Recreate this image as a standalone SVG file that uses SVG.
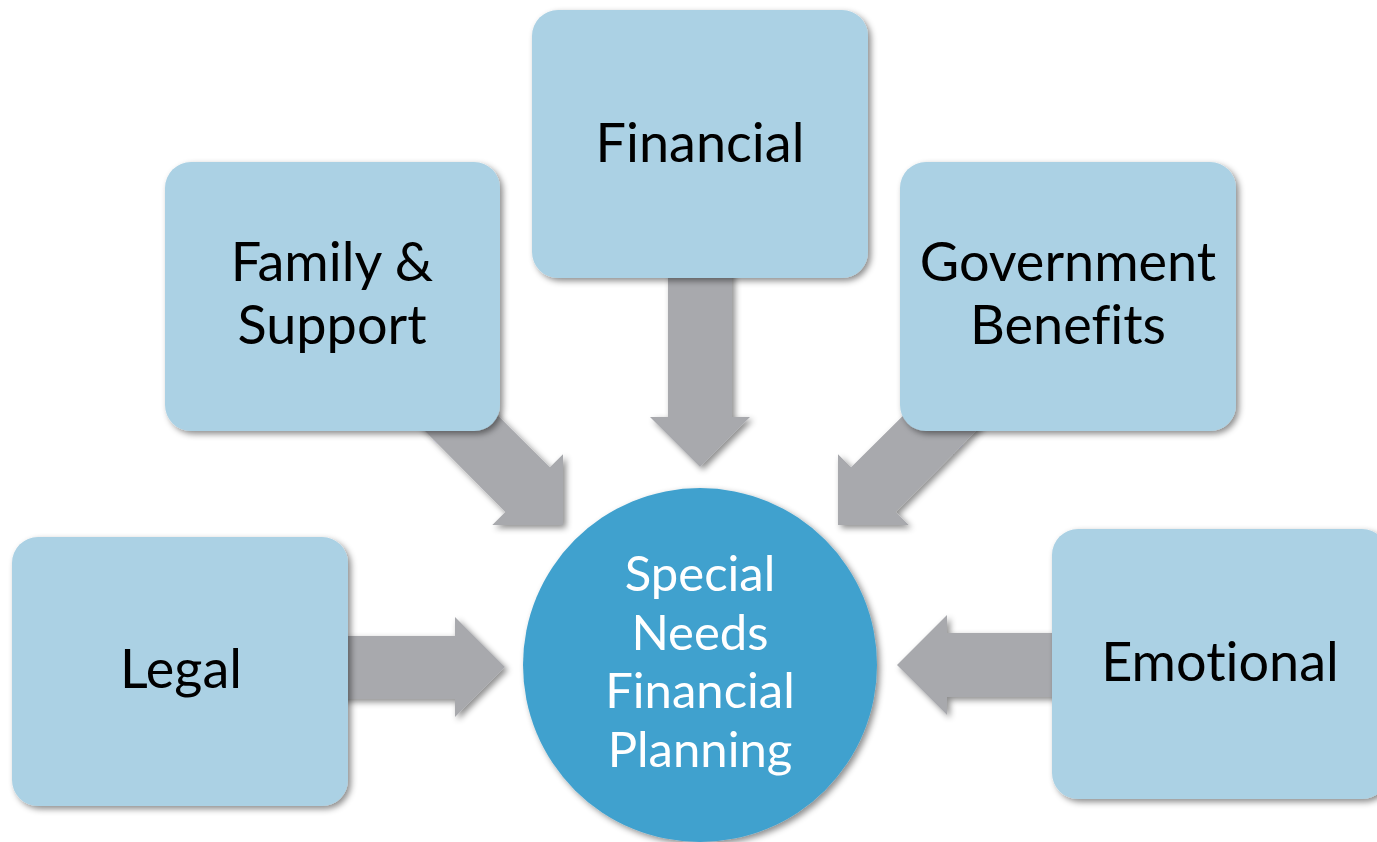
<svg xmlns="http://www.w3.org/2000/svg" width="1377" height="842" viewBox="0 0 1377 842">
  <defs>
    <filter id="shadow" x="-20%" y="-20%" width="140%" height="140%">
      <feDropShadow dx="3" dy="3" stdDeviation="3" flood-color="#000" flood-opacity="0.45"/>
    </filter>
  </defs>
  <style>
    .box { fill: #abd1e4; filter: url(#shadow); }
    .hub { fill: #41a1ce; filter: url(#shadow); }
    .arrow { fill: #a8a9ad; filter: url(#shadow); }
    text { font-family: Lato, "Open Sans", sans-serif; text-anchor: middle; font-variant-ligatures: none; font-feature-settings: "liga" 0, "dlig" 0; }
    .label { font-size: 54px; fill: #000; }
    .hub-label { font-size: 49px; fill: #fff; }
  </style>
  <rect width="1377" height="842" fill="#fff"/>

  <!-- block arrows pointing into the hub -->
  <g id="connectors">
    <polygon class="arrow" points="330,636 455,636 455,617 505,667 455,717 455,699 330,699"/>
    <polygon class="arrow" points="1070,633 947,633 947,615 897,665 947,715 947,697 1070,697"/>
    <polygon class="arrow" points="668,260 732,260 732,417 750,417 700,467 650,417 668,417"/>
    <polygon class="arrow" points="462,380 549.9,467.3 563,454.3 563,525 492.3,525 505.3,511.9 418,424"/>
    <polygon class="arrow" points="982,425 895.7,511.9 908.8,525 838,525 838,454.2 851.1,467.3 938,381"/>
  </g>

  <g id="node-financial">
    <rect class="box" x="532" y="10" width="336" height="268" rx="26"/>
    <text class="label" x="700" y="162">Financial</text>
  </g>

  <g id="node-family">
    <rect class="box" x="165" y="162" width="335" height="269" rx="26"/>
    <text class="label" x="332" y="281">Family &amp;</text>
    <text class="label" x="332" y="344">Support</text>
  </g>

  <g id="node-government">
    <rect class="box" x="900" y="162" width="336" height="269" rx="26"/>
    <text class="label" x="1068" y="281">Government</text>
    <text class="label" x="1068" y="344">Benefits</text>
  </g>

  <g id="node-legal">
    <rect class="box" x="12" y="537" width="336" height="269" rx="26"/>
    <text class="label" x="181" y="688">Legal</text>
  </g>

  <g id="node-emotional">
    <rect class="box" x="1052" y="529" width="336" height="270" rx="26"/>
    <text class="label" x="1220" y="681">Emotional</text>
  </g>

  <g id="node-hub">
    <circle class="hub" cx="700" cy="665" r="177"/>
    <text class="hub-label" x="700" y="591">Special</text>
    <text class="hub-label" x="700" y="650">Needs</text>
    <text class="hub-label" x="700" y="708">Financial</text>
    <text class="hub-label" x="700" y="767">Planning</text>
  </g>
</svg>
